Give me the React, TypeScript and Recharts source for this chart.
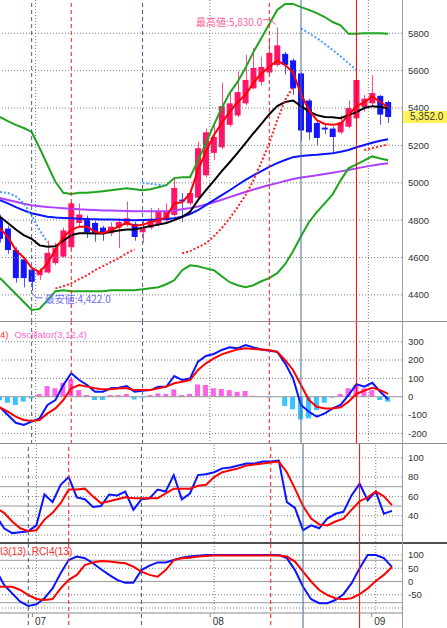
import React from "react";
import {
  ComposedChart,
  Bar,
  Line,
  XAxis,
  YAxis,
  ReferenceLine,
  ReferenceDot,
  Cell,
} from "recharts";

// trading days (last slot is empty padding on the right)
const dates = [
  "06/24", "06/25", "06/26", "06/27", "06/30",
  "07/01", "07/02", "07/03", "07/04", "07/07", "07/08", "07/09", "07/10", "07/11",
  "07/14", "07/15", "07/16", "07/17", "07/18", "07/22", "07/23", "07/24", "07/25",
  "07/28", "07/29", "07/30", "07/31",
  "08/01", "08/04", "08/05", "08/06", "08/07", "08/08", "08/11", "08/12", "08/13",
  "08/14", "08/18", "08/19", "08/20", "08/21", "08/22", "08/25", "08/26", "08/27",
  "08/28", "08/29",
  "09/01", "09/02", "09/03", "09/04",
];

const opens = [
  4815, 4755, 4640, 4590, 4535, 4505, 4520, 4570, 4605, 4655,
  4785, 4810, 4785, 4760, 4730, 4760, 4775, 4780, 4735, 4760,
  4775, 4800, 4828, 4910, 4890, 4920, 5040, 5160, 5190, 5310,
  5360, 5425, 5505, 5540, 5590, 5630, 5690, 5655, 5585, 5440,
  5320, 5295, 5290, 5270, 5300, 5345, 5405, 5425, 5465, 5432,
];
const highs = [
  4830, 4770, 4655, 4600, 4545, 4545, 4690, 4680, 4760, 4900,
  4890, 4825, 4795, 4770, 4790, 4810, 4900, 4790, 4800, 4865,
  4865, 4890, 5025, 4945, 4960, 5220, 5290, 5320, 5535, 5495,
  5595, 5685, 5720, 5675, 5765, 5830, 5700, 5665, 5590, 5450,
  5330, 5310, 5300, 5360, 5440, 5645, 5470, 5575, 5470, 5440,
];
const lows = [
  4680, 4620, 4465, 4440, 4422, 4480, 4515, 4560, 4600, 4645,
  4760, 4705, 4685, 4690, 4715, 4650, 4765, 4690, 4680, 4750,
  4765, 4790, 4820, 4790, 4880, 4910, 5030, 5120, 5180, 5300,
  5350, 5415, 5500, 5520, 5580, 5620, 5580, 5470, 5225, 5230,
  5200, 5260, 5165, 5260, 5290, 5330, 5380, 5410, 5310, 5320,
];
const closes = [
  4700, 4640, 4490, 4490, 4470, 4530, 4625, 4650, 4745, 4890,
  4830, 4735, 4730, 4725, 4765, 4790, 4810, 4710, 4760, 4800,
  4845, 4845, 4972, 4900, 4945, 5185, 5270, 5245, 5410, 5425,
  5485, 5550, 5615, 5620, 5695, 5735, 5630, 5505, 5280, 5270,
  5240, 5285, 5245, 5325, 5400, 5550, 5450, 5480, 5365, 5352,
];

// moving averages
const maRed = [
  4757, 4710, 4640, 4600, 4545, 4522, 4570, 4640, 4710, 4748,
  4765, 4765, 4738, 4730, 4747, 4765, 4785, 4770, 4775, 4790,
  4800, 4815, 4890, 4895, 4943, 5068, 5165, 5255, 5320, 5380,
  5432, 5470, 5535, 5585, 5620, 5655, 5630, 5590, 5475, 5390,
  5335, 5315, 5310, 5315, 5362, 5410, 5430, 5462, 5432, 5405,
];
const maBlack = [
  4818, 4785, 4750, 4720, 4700, 4665, 4658, 4660, 4690, 4720,
  4730, 4730, 4728, 4728, 4738, 4745, 4750, 4750, 4760, 4768,
  4776, 4785, 4800, 4818, 4845, 4907, 4960, 5010, 5062, 5110,
  5160, 5212, 5265, 5315, 5367, 5410, 5432, 5440, 5410, 5382,
  5362, 5352, 5350, 5345, 5362, 5378, 5400, 5410, 5405, 5400,
];
const maBlue = [
  4907, 4890, 4870, 4852, 4837, 4828, 4818, 4814, 4812, 4810,
  4808, 4806, 4805, 4804, 4803, 4802, 4801, 4800, 4801, 4802,
  4803, 4806, 4810, 4818, 4833, 4853, 4880, 4907, 4934, 4960,
  4988, 5015, 5040, 5062, 5085, 5105, 5122, 5137, 5143, 5147,
  5150, 5154, 5158, 5166, 5175, 5190, 5202, 5214, 5225, 5233,
];
const maPurple = [
  4918, 4908, 4898, 4888, 4880, 4875, 4870, 4867, 4864, 4861,
  4858, 4856, 4854, 4852, 4851, 4850, 4849, 4848, 4848, 4848,
  4848, 4849, 4852, 4858, 4865, 4873, 4884, 4896, 4909, 4923,
  4937, 4951, 4964, 4976, 4988, 4998, 5010, 5020, 5028, 5034,
  5040, 5047, 5054, 5061, 5068, 5077, 5085, 5093, 5099, 5105,
];
const bbUpper = [
  5352, 5330, 5310, 5293, 5272, 5186, 5095, 5005, 4946, 4940,
  4946, 4946, 4950, 4955, 4960, 4965, 4970, 4965, 4960, 4965,
  4976, 4987, 5025, 5030, 5030, 5120, 5212, 5310, 5400, 5480,
  5540, 5615, 5700, 5775, 5850, 5925, 5957, 5957, 5940, 5925,
  5908, 5887, 5860, 5843, 5797, 5797, 5800, 5800, 5800, 5797,
];
const bbLower = [
  4490, 4448, 4405, 4362, 4319, 4325, 4372, 4420, 4425, 4420,
  4420, 4420, 4420, 4420, 4425, 4425, 4425, 4425, 4430, 4436,
  4441, 4457, 4478, 4532, 4558, 4553, 4542, 4532, 4500, 4468,
  4452, 4441, 4452, 4473, 4490, 4516, 4564, 4634, 4714, 4789,
  4843, 4890, 4938, 5013, 5077, 5098, 5120, 5141, 5130, 5120,
];
// parabolic SAR: below price (red) / above price (blue)
const sarBelow = [
  null, null, null, null, null, null, null, 4435, 4446, 4462,
  4484, 4505, 4532, 4554, 4575, 4596, 4623, 4644, null, null,
  null, null, null, 4623, 4634, 4655, 4676, 4714, 4757, 4810,
  4869, 4933, 5013, 5110, 5212, 5335, 5443, 5512, null, null,
  null, null, null, null, null, null, 5175, 5185, 5195, 5206,
];
const sarAbove = [
  4951, 4945, 4928, 4890, 4826, 4746, 4682, null, null, null,
  null, null, null, null, null, null, null, null, 4998, 4995,
  4990, 4985, null, null, null, null, null, null, null, null,
  null, null, null, null, null, null, null, null, 5827, 5800,
  5774, 5743, 5710, 5677, 5640, 5603, null, null, null, null,
];

// Oscillator(3,12,4)
const oscLine = [
  -58, -100, -142, -154, -136, -118, -45, -18, 64, 128,
  91, 64, 27, 27, 46, 49, 58, 27, 33, 36,
  54, 54, 113, 91, 100, 191, 222, 233, 255, 269,
  264, 282, 269, 258, 251, 245, 182, 100, -45, -82,
  -109, -91, -64, -45, 9, 69, 55, 76, 27, -14,
];
const oscSignal = [
  -58, -82, -109, -127, -133, -127, -91, -64, -18, 46,
  64, 55, 46, 40, 40, 46, 46, 36, 36, 36,
  46, 55, 73, 82, 91, 146, 182, 209, 231, 245,
  258, 264, 260, 258, 255, 245, 200, 146, 64, -18,
  -55, -64, -64, -58, -27, 15, 33, 49, 36, 15,
];
const oscHist = [
  -20, -33, -45, -27, -9, 15, 58, 46, 76, 95,
  36, 9, -18, -18, 9, 9, 15, -15, -5, 9,
  18, 15, 40, 9, 15, 67, 64, 46, 42, 36,
  27, 31, 5, 2, -5, -2, -51, -69, -124, -118,
  -73, -33, -5, 15, 46, 64, 46, 36, -18, -27,
];

// stochastics
const stochK = [
  40, 27, 22, 23, 24, 30, 62, 54, 72, 80,
  59, 57, 49, 50, 62, 61, 65, 46, 57, 58,
  67, 65, 82, 57, 63, 82, 83, 85, 89, 90,
  92, 94, 94, 96, 96, 97, 54, 48, 25, 30,
  27, 37, 42, 44, 61, 73, 56, 65, 42, 45,
];
const stochD = [
  48, 43, 34, 27, 24, 25, 36, 43, 53, 67,
  67, 68, 60, 53, 55, 57, 59, 58, 58, 58,
  58, 63, 68, 68, 68, 71, 72, 80, 85, 87,
  89, 92, 93, 94, 95, 96, 85, 68, 50, 37,
  31, 30, 34, 37, 46, 55, 59, 65, 60, 51,
];

// RCI
const rciBlue = [
  43, -13, -45, -76, -92, -86, -63, -26, 31, 81,
  94, 88, 69, 46, 25, 6, -5, -5, 43, 60,
  72, 72, 81, 90, 94, 97, 100, 100, 100, 100,
  100, 100, 100, 100, 100, 100, 88, 43, -20, -67,
  -82, -82, -70, -48, -7, 50, 100, 100, 88, 55,
];
const rciRed = [
  -20, -20, -20, -32, -51, -66, -70, -66, -26, 6,
  25, 62, 72, 77, 75, 72, 69, 56, 37, 25,
  18, 43, 81, 88, 90, 94, 96, 98, 98, 98,
  98, 98, 98, 98, 98, 98, 94, 75, 37, 0,
  -32, -51, -63, -67, -63, -48, -26, 2, 25, 55,
];

const priceTicks = [4400, 4600, 4800, 5000, 5200, 5400, 5600, 5800];
const oscTicks = [-200, -100, 0, 100, 200, 300];
const stochTicks = [40, 60, 80, 100];
const rciTicks = [-50, 0, 50, 100];
const monthStarts = ["07/01", "08/01", "09/01"];
const events = [
  { d: "06/30", color: "#3d5f8f", dash: "4 3" },
  { d: "07/07", color: "#ff1a1a", dash: "4 3" },
  { d: "07/18", color: "#3d5f8f", dash: "4 3" },
  { d: "08/12", color: "#ff1a1a", dash: "4 3" },
  { d: "08/19", color: "#4a6890", dash: undefined },
  { d: "08/28", color: "#ff0000", dash: undefined },
];

const at = (arr: (number | null)[], i: number) => (i < arr.length ? arr[i] : null);

const rows = dates.map((d, i) => ({
  d,
  range: i < closes.length ? [lows[i], highs[i]] : null,
  open: at(opens, i),
  high: at(highs, i),
  low: at(lows, i),
  close: at(closes, i),
  maRed: at(maRed, i),
  maBlack: at(maBlack, i),
  maBlue: at(maBlue, i),
  maPurple: at(maPurple, i),
  bbUpper: at(bbUpper, i),
  bbLower: at(bbLower, i),
  sarBelow: at(sarBelow, i),
  sarAbove: at(sarAbove, i),
  oscLine: at(oscLine, i),
  oscSignal: at(oscSignal, i),
  oscHist: at(oscHist, i),
  stochK: at(stochK, i),
  stochD: at(stochD, i),
  rciBlue: at(rciBlue, i),
  rciRed: at(rciRed, i),
}));

const UP = "#ff1468";
const DOWN = "#1414ff";
const GRID = "#7c7c7c";
const CHART_W = 451;
const XPAD = { left: 0, right: 2 };
const tickStyle = { fill: "#333", fontSize: 9.5 };

const Candle = (props: any) => {
  const { x, y, width, height, payload } = props;
  if (!payload || payload.open == null) return <g />;
  const top = Math.min(y, y + height);
  const h = Math.abs(height);
  const { open, close, high, low } = payload;
  const py = (v: number) => (high === low ? top : top + ((high - v) / (high - low)) * h);
  const up = close >= open;
  const mid = Math.round(x + width / 2) + 0.5;
  const bTop = py(Math.max(open, close));
  const bBot = py(Math.min(open, close));
  return (
    <g>
      <line x1={mid} x2={mid} y1={top} y2={top + h} stroke={up ? "#ff4d8c" : "#4a55ff"} strokeWidth={1} />
      <rect x={x} y={bTop} width={width} height={Math.max(1, bBot - bTop)} fill={up ? UP : DOWN} />
    </g>
  );
};

const fmt = (v: number) =>
  v.toLocaleString("en-US", { minimumFractionDigits: 1, maximumFractionDigits: 1 });

const maxHigh = Math.max(...highs);
const minLow = Math.min(...lows);
const maxIdx = highs.indexOf(maxHigh);
const minIdx = lows.indexOf(minLow);
const lastClose = closes[closes.length - 1];

const HighMark = (p: any) => {
  const { cx, cy } = p;
  return (
    <g>
      <polyline
        points={`${cx - 14},${cy - 8} ${cx - 7},${cy - 8} ${cx - 1},${cy - 3}`}
        fill="none"
        stroke="#ff5c9a"
        strokeWidth={1}
      />
      <text x={cx - 15} y={cy - 2} textAnchor="end" fontSize={10} fill="#ff5c9a" fontFamily="'Noto Sans CJK JP'">
        {"最高値:" + fmt(maxHigh)}
      </text>
    </g>
  );
};

const LowMark = (p: any) => {
  const { cx, cy } = p;
  return (
    <g>
      <polyline
        points={`${cx},${cy + 2} ${cx + 5},${cy + 7} ${cx + 11},${cy + 7}`}
        fill="none"
        stroke="#6a6aff"
        strokeWidth={1}
      />
      <text x={cx + 13} y={cy + 12} fontSize={10} fill="#6a6aff" fontFamily="'Noto Sans CJK JP'">
        {"最安値:" + fmt(minLow)}
      </text>
    </g>
  );
};

const PriceTag = (p: any) => {
  const vb = p.viewBox || {};
  const x0 = vb.x + vb.width;
  const y0 = vb.y;
  return (
    <g>
      <rect x={x0} y={y0 - 6} width={45} height={12} fill="#fff35a" />
      <text x={x0 + 8} y={y0 + 3.5} fontSize={10} fill="#333">
        {fmt(lastClose)}
      </text>
    </g>
  );
};

const MonthTick = (p: any) => {
  const { x, y, payload } = p;
  return (
    <g>
      <line x1={x - 4} x2={x - 4} y1={y} y2={y + 4} stroke="#888" />
      <text x={x - 1.5} y={y + 12} fontSize={10} fill="#333">
        {String(payload.value).slice(0, 2)}
      </text>
    </g>
  );
};

const hLines = (values: number[], dashed: boolean, prefix: string) =>
  values.map((v) => (
    <ReferenceLine
      key={prefix + v}
      y={v}
      stroke={dashed ? GRID : "#9a9a9a"}
      strokeDasharray={dashed ? "1 2" : undefined}
    />
  ));

const monthLines = () =>
  monthStarts.map((m) => (
    <ReferenceLine key={"m" + m} x={m} position="start" stroke={GRID} strokeDasharray="1 2" />
  ));

const eventLines = (seg?: [number, number]) =>
  events.map((e) =>
    seg ? (
      <ReferenceLine
        key={"e" + e.d}
        segment={[
          { x: e.d, y: seg[0] },
          { x: e.d, y: seg[1] },
        ]}
        ifOverflow="visible"
        stroke={e.color}
        strokeDasharray={e.dash}
        strokeWidth={1}
      />
    ) : (
      <ReferenceLine key={"e" + e.d} x={e.d} stroke={e.color} strokeDasharray={e.dash} strokeWidth={1} />
    )
  );

const lineProps = {
  dot: false,
  activeDot: false,
  isAnimationActive: false,
  type: "linear" as const,
  strokeWidth: 2,
};

export default function App() {
  return (
    <div
      style={{
        position: "absolute",
        left: 0,
        top: 0,
        width: 447,
        height: 628,
        overflow: "hidden",
        background: "#fff",
        fontFamily: "'Liberation Sans', Arial, sans-serif",
      }}
    >
      {/* price panel */}
      <div style={{ position: "absolute", left: -4, top: 0 }}>
        <ComposedChart width={CHART_W} height={322} data={rows} margin={{ top: 0, right: 0, bottom: 0, left: 0 }}>
          <XAxis dataKey="d" hide padding={XPAD} />
          <YAxis
            orientation="right"
            type="number"
            width={45}
            domain={[4255, 5978]}
            allowDataOverflow
            ticks={priceTicks}
            interval={0}
            tick={tickStyle}
            tickLine={false}
            axisLine={false}
            tickSize={4}
            tickMargin={2}
          />
          {hLines(priceTicks, true, "p")}
          {monthLines()}
          <Bar dataKey="range" barSize={6} shape={Candle} isAnimationActive={false} activeBar={false} />
          <Line dataKey="maPurple" stroke="#b040ff" {...lineProps} />
          <Line dataKey="maBlue" stroke="#0a14ff" {...lineProps} />
          <Line dataKey="bbUpper" stroke="#1fa51f" {...lineProps} />
          <Line dataKey="bbLower" stroke="#1fa51f" {...lineProps} />
          <Line dataKey="maBlack" stroke="#000" {...lineProps} />
          <Line dataKey="maRed" stroke="#ff0000" {...lineProps} />
          <Line dataKey="sarBelow" stroke="#ff2020" strokeDasharray="2 2" {...lineProps} />
          <Line dataKey="sarAbove" stroke="#4f9cff" strokeDasharray="2 2" {...lineProps} />
          {eventLines()}
          <ReferenceDot x={dates[maxIdx]} y={maxHigh} r={0} shape={HighMark} ifOverflow="visible" />
          <ReferenceDot x={dates[minIdx]} y={minLow} r={0} shape={LowMark} ifOverflow="visible" />
          <ReferenceLine y={lastClose} stroke="none" ifOverflow="visible" label={{ content: PriceTag }} />
        </ComposedChart>
      </div>

      {/* oscillator panel */}
      <div style={{ position: "absolute", left: -4, top: 322 }}>
        <ComposedChart width={CHART_W} height={122} data={rows} margin={{ top: 0, right: 0, bottom: 0, left: 0 }}>
          <XAxis dataKey="d" hide padding={XPAD} />
          <YAxis
            orientation="right"
            type="number"
            width={45}
            domain={[-258, 407.5]}
            allowDataOverflow
            ticks={oscTicks}
            interval={0}
            tick={tickStyle}
            tickLine={false}
            axisLine={false}
            tickSize={4}
            tickMargin={2}
          />
          {hLines([-200, -100, 100, 200, 300], true, "o")}
          {hLines([0], false, "oz")}
          {monthLines()}
          <Bar dataKey="oscHist" barSize={5} isAnimationActive={false} activeBar={false}>
            {rows.map((r, i) => (
              <Cell key={"h" + i} fill={(r.oscHist ?? 0) >= 0 ? "#ff62e4" : "#38c4ff"} />
            ))}
          </Bar>
          <Line dataKey="oscLine" stroke="#0a14ff" {...lineProps} />
          <Line dataKey="oscSignal" stroke="#ff0000" {...lineProps} />
          {eventLines()}
        </ComposedChart>
      </div>

      {/* stochastics panel */}
      <div style={{ position: "absolute", left: -4, top: 444 }}>
        <ComposedChart width={CHART_W} height={98} data={rows} margin={{ top: 0, right: 0, bottom: 0, left: 0 }}>
          <XAxis dataKey="d" hide padding={XPAD} />
          <YAxis
            orientation="right"
            type="number"
            width={45}
            domain={[12.8, 114.2]}
            allowDataOverflow
            ticks={stochTicks}
            interval={0}
            tick={tickStyle}
            tickLine={false}
            axisLine={false}
            tickSize={4}
            tickMargin={2}
          />
          {hLines([20, 40, 60, 80, 100], true, "s")}
          {hLines([30, 50, 70], false, "ss")}
          {monthLines()}
          <Line dataKey="stochK" stroke="#0a14ff" {...lineProps} />
          <Line dataKey="stochD" stroke="#ff0000" {...lineProps} />
          {eventLines()}
        </ComposedChart>
      </div>

      {/* RCI panel */}
      <div style={{ position: "absolute", left: -4, top: 544 }}>
        <ComposedChart width={CHART_W} height={84} data={rows} margin={{ top: 0, right: 0, bottom: 0, left: 0 }}>
          <XAxis
            dataKey="d"
            height={15}
            padding={XPAD}
            ticks={monthStarts}
            interval={0}
            tick={MonthTick}
            tickLine={false}
            tickSize={0}
            tickMargin={0}
            axisLine={{ stroke: "#888" }}
          />
          <YAxis
            orientation="right"
            type="number"
            width={45}
            domain={[-118.9, 141.5]}
            allowDataOverflow
            ticks={rciTicks}
            interval={0}
            tick={tickStyle}
            tickLine={false}
            axisLine={false}
            tickSize={4}
            tickMargin={2}
          />
          {hLines([-100, -50, 50, 100], true, "r")}
          {hLines([-80, 0, 80], false, "rr")}
          {monthLines()}
          <Line dataKey="rciBlue" stroke="#0a14ff" {...lineProps} />
          <Line dataKey="rciRed" stroke="#ff0000" {...lineProps} />
          {eventLines([141.5, -176])}
        </ComposedChart>
      </div>

      {/* panel frames */}
      <div style={{ position: "absolute", left: 0, top: 321, width: 447, height: 1, background: "#8c8c8c" }} />
      <div style={{ position: "absolute", left: 0, top: 443, width: 447, height: 1, background: "#8c8c8c" }} />
      <div style={{ position: "absolute", left: 0, top: 542, width: 447, height: 2, background: "#505050" }} />
      <div style={{ position: "absolute", left: 402, top: 0, width: 1, height: 628, background: "#a0a0a0" }} />

      {/* indicator captions */}
      <div style={{ position: "absolute", left: 0, top: 330, fontSize: 9.5, lineHeight: "10px", whiteSpace: "nowrap" }}>
        <span style={{ color: "#ff3333" }}>4)</span>
        <span style={{ color: "#ff66cc", marginLeft: 6 }}>Oscillator(3,12,4)</span>
      </div>
      <div
        style={{
          position: "absolute",
          left: 0,
          top: 547,
          fontSize: 10,
          lineHeight: "10px",
          color: "#ff3030",
          whiteSpace: "nowrap",
        }}
      >
        I3(13) .RCI4(13)
      </div>
    </div>
  );
}
